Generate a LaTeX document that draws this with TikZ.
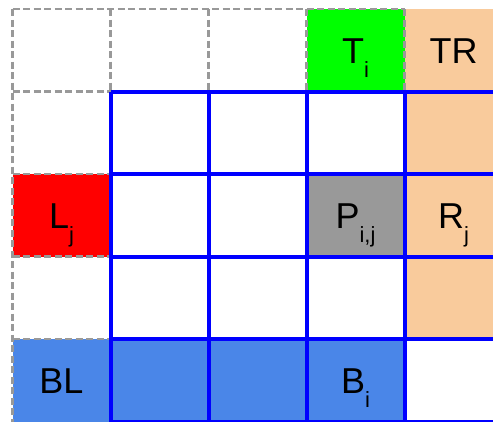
\documentclass[tikz,border=0pt]{standalone}
\usepackage{fontspec}
\setmainfont{Liberation Sans}
\usepackage{xcolor}
\usetikzlibrary{calc}
\definecolor{peach}{HTML}{F9CB9C}
\definecolor{sheetblue}{HTML}{4A86E8}
\newcommand{\lowsub}[1]{\raisebox{-14pt}{\fontsize{22}{24}\selectfont #1}}

\begin{document}
\begin{tikzpicture}[x=1pt,y=-1pt,
  halo/.style={gray!80,line width=2.2pt,dash pattern=on 7pt off 3.5pt},
  bluegrid/.style={blue,line width=4pt},
  celltext/.style={font=\fontsize{36}{40}\selectfont,anchor=base,inner sep=0pt}]
\useasboundingbox (0,0) rectangle (493,421);
\begin{scope}
\clip (0,0) rectangle (493,421);
\fill[peach] (404.5,9) rectangle (502.5,339);
\fill[green] (306.5,9) rectangle (404.5,91.5);
\fill[red] (12.5,174) rectangle (110.5,256.5);
\fill[gray!80] (306.5,174) rectangle (404.5,256.5);
\fill[sheetblue] (12.5,339) rectangle (404.5,421.5);
% halo cells: top row and left column
\draw[halo] (12.5,9) -- (404.5,9);
\foreach \r in {1,...,4} { \draw[halo] (12.5,{9+82.5*\r}) -- ++(98,0); }
\draw[halo] (12.5,9) -- (12.5,421.5);
\foreach \c in {1,...,4} { \draw[halo] ({12.5+98*\c},9) -- ++(0,82.5); }
% the block itself
\foreach \c in {0,...,4} { \draw[bluegrid] ({110.5+98*\c},91.5) -- ++(0,330); }
\foreach \r in {0,...,4} { \draw[bluegrid] (110.5,{91.5+82.5*\r}) -- ++(392,0); }
\end{scope}
\node[celltext] (Ti) at (355.5,63.25) {T\lowsub{i}};
\node[celltext] (TR) at (453.5,63.25) {TR};
\node[celltext] (Lj) at (61.5,228.25) {L\lowsub{j}};
\node[celltext] (Pij) at (355.5,228.25) {P\lowsub{i,j}};
\node[celltext] (Rj) at (453.5,228.25) {R\lowsub{j}};
\node[celltext] (BL) at (61.5,393.25) {BL};
\node[celltext] (Bi) at (355.5,393.25) {B\lowsub{i}};
\end{tikzpicture}
\end{document}
